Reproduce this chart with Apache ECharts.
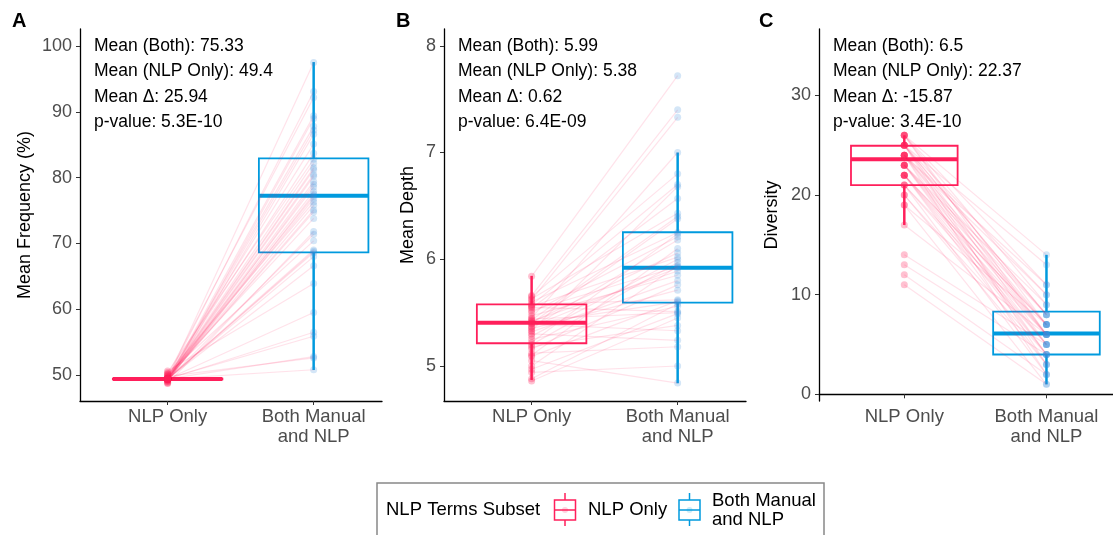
<!DOCTYPE html>
<html>
<head>
<meta charset="utf-8">
<script src="https://cdn.jsdelivr.net/npm/echarts@6/dist/echarts.min.js"></script>
<style>
html,body{margin:0;padding:0;background:#fff;}
#chart{width:1113px;height:535px;}
</style>
</head>
<body>
<div id="chart"></div>
<script>
// ---------------- data ----------------
const categories = ['NLP Only', 'Both Manual\nand NLP'];
const legendTitle = 'NLP Terms Subset';
const legendLabels = ['NLP Only', 'Both Manual\nand NLP'];
const panelLetters = ['A', 'B', 'C'];
const yTitles = ['Mean Frequency (%)', 'Mean Depth', 'Diversity'];

const yTicksA = [50, 60, 70, 80, 90, 100];
const yTicksB = [5, 6, 7, 8];
const yTicksC = [0, 10, 20, 30];

const annotA = ['Mean (Both): 75.33', 'Mean (NLP Only): 49.4', 'Mean \u0394: 25.94', 'p-value: 5.3E-10'];
const annotB = ['Mean (Both): 5.99', 'Mean (NLP Only): 5.38', 'Mean \u0394: 0.62', 'p-value: 6.4E-09'];
const annotC = ['Mean (Both): 6.5', 'Mean (NLP Only): 22.37', 'Mean \u0394: -15.87', 'p-value: 3.4E-10'];

// Panel A: mean frequency (%)
const freqNlp = [49.4, 49.6, 50.6, 49.3, 49.4, 49.8, 49.4, 49.2, 50.2, 49.4,
                 49.5, 49.4, 49.0, 49.4, 49.7, 49.4, 49.3, 50.4, 49.4, 49.5,
                 48.9, 49.4, 49.4, 49.6, 49.1, 49.4, 50.0, 49.4, 49.3, 49.4,
                 48.8, 49.5, 49.4, 49.9, 49.4, 49.2, 49.4, 50.1, 49.4, 49.5,
                 48.7, 49.4, 49.4];
const freqBoth = [97.5, 77.2, 63.9, 89.4, 81.2, 52.6, 75.8, 87.2, 70.4, 80.5,
                  93.1, 68.6, 79.0, 56.5, 85.1, 76.8, 71.4, 82.8, 50.8, 78.6,
                  89.0, 74.8, 66.6, 83.7, 77.5, 59.5, 92.2, 69.0, 80.2, 75.1,
                  86.6, 55.9, 81.5, 73.8, 68.8, 79.4, 87.8, 76.3, 52.8, 82.2,
                  71.8, 77.9, 68.0];
// box stats: [lower whisker, Q1, median, Q3, upper whisker]
const freqBoxNlp = [49.25, 49.33, 49.39, 49.45, 49.52];
const freqBoxBoth = [50.76, 68.65, 77.25, 82.93, 97.57];

// Panel B: mean depth
const depthNlp = [5.84, 5.66, 5.65, 5.63, 5.62, 5.60, 5.58, 5.57, 5.56, 5.55,
                  5.54, 5.52, 5.50, 5.47, 5.45, 5.44, 5.43, 5.42, 5.41, 5.40,
                  5.40, 5.39, 5.37, 5.36, 5.35, 5.33, 5.32, 5.30, 5.28, 5.25,
                  5.22, 5.20, 5.18, 5.16, 5.12, 5.10, 5.09, 5.05, 5.00, 4.97,
                  4.94, 4.88, 4.86];
const depthBoth = [7.72, 7.40, 6.80, 6.43, 7.33, 6.25, 5.62, 6.70, 6.02, 5.51,
                   6.57, 5.93, 6.21, 5.85, 7.00, 5.50, 6.40, 5.89, 6.06, 5.60,
                   6.38, 5.33, 5.92, 6.18, 5.71, 6.68, 5.80, 5.24, 6.00, 5.56,
                   6.24, 5.97, 5.38, 5.76, 5.18, 6.10, 5.61, 4.84, 5.94, 5.49,
                   5.00, 5.58, 5.45];
const depthBoxNlp = [4.869, 5.213, 5.406, 5.578, 5.844];
const depthBoxBoth = [4.838, 5.593, 5.92, 6.253, 7.0];

// Panel C: diversity
const divNlp = [26, 26, 26, 26, 26, 25, 25, 25, 25, 25, 25, 25, 24, 24, 24, 24, 24, 24, 24,
                23, 23, 23, 23, 23, 23, 22, 22, 22, 22, 22, 22, 21, 21, 21, 20, 20, 19, 19,
                17, 14, 13, 12, 11];
const divBoth = [14, 11, 9, 7, 6, 13, 10, 8, 8, 6, 5, 3, 11, 10, 8, 7, 6, 4, 2,
                 9, 8, 7, 6, 5, 4, 7, 7, 6, 5, 4, 3, 6, 5, 2, 4, 3, 7, 1,
                 6, 5, 4, 2, 1];
const divBoxNlp = [17, 21, 23.6, 24.95, 26];
const divBoxBoth = [1, 4, 6.1, 8.3, 14];

// ---------------- style ----------------
const PINK = '#FF1F5B';
const BLUE = '#009ADE';
const FONT = 'Liberation Sans, Arial, Helvetica, sans-serif';
const BOX_HALF = 0.375;

const panels = [
  {left: 80, top: 29, ymin: 46.05, ymax: 102.6, ticks: yTicksA, nlp: freqNlp, both: freqBoth,
   boxN: freqBoxNlp, boxB: freqBoxBoth, annot: annotA, nameGap: 46},
  {left: 444, top: 29, ymin: 4.672, ymax: 8.157, ticks: yTicksB, nlp: depthNlp, both: depthBoth,
   boxN: depthBoxNlp, boxB: depthBoxBoth, annot: annotB, nameGap: 27},
  {left: 819, top: 29, ymin: -0.67, ymax: 36.67, ticks: yTicksC, nlp: divNlp, both: divBoth,
   boxN: divBoxNlp, boxB: divBoxBoth, annot: annotC, nameGap: 38}
];
const letterX = [12, 396, 759];

const grid = [], xAxis = [], yAxis = [], series = [], graphic = [];

panels.forEach((p, i) => {
  grid.push({left: p.left, top: p.top, width: 302, height: 401 - p.top, containLabel: false});
  xAxis.push({
    type: 'value', gridIndex: i, min: 0.4, max: 2.468,
    axisLine: {show: true, lineStyle: {color: '#000', width: 1.3}},
    axisTick: {show: true, length: 4, lineStyle: {color: '#333'}, customValues: [1, 2]},
    axisLabel: {show: true, customValues: [1, 2], margin: 6, color: '#4d4d4d', fontSize: 18.5,
      fontFamily: FONT, lineHeight: 20, align: 'center',
      formatter: v => categories[Math.round(v) - 1]},
    splitLine: {show: false}
  });
  yAxis.push({
    type: 'value', gridIndex: i, min: p.ymin, max: p.ymax,
    name: yTitles[i], nameLocation: 'middle', nameGap: p.nameGap,
    nameTextStyle: {color: '#000', fontSize: 18, fontFamily: FONT},
    axisLine: {show: true, lineStyle: {color: '#000', width: 1.3}},
    axisTick: {show: true, length: 4, lineStyle: {color: '#333'}, customValues: p.ticks},
    axisLabel: {show: true, customValues: p.ticks, margin: 8, color: '#4d4d4d', fontSize: 18, fontFamily: FONT},
    splitLine: {show: false}
  });
  // boxplots
  series.push({
    type: 'custom', xAxisIndex: i, yAxisIndex: i, z: 2, silent: true,
    encode: {x: 0, y: [1, 2, 3, 4, 5]},
    data: [[1].concat(p.boxN), [2].concat(p.boxB)],
    renderItem: function (params, api) {
      const x = api.value(0);
      const color = params.dataIndex === 0 ? PINK : BLUE;
      const lo = api.coord([x, api.value(1)]);
      const q1 = api.coord([x, api.value(2)]);
      const md = api.coord([x, api.value(3)]);
      const q3 = api.coord([x, api.value(4)]);
      const hi = api.coord([x, api.value(5)]);
      const l = api.coord([x - BOX_HALF, api.value(3)])[0];
      const r = api.coord([x + BOX_HALF, api.value(3)])[0];
      return {type: 'group', children: [
        {type: 'line', shape: {x1: lo[0], y1: lo[1], x2: q1[0], y2: q1[1]}, style: {stroke: color, lineWidth: 2.5}},
        {type: 'line', shape: {x1: q3[0], y1: q3[1], x2: hi[0], y2: hi[1]}, style: {stroke: color, lineWidth: 2.5}},
        {type: 'rect', shape: {x: l, y: q3[1], width: r - l, height: q1[1] - q3[1]},
         style: {fill: 'none', stroke: color, lineWidth: 1.8}},
        {type: 'line', shape: {x1: l, y1: md[1], x2: r, y2: md[1]}, style: {stroke: color, lineWidth: 4}}
      ]};
    }
  });
  // paired lines
  series.push({
    type: 'lines', coordinateSystem: 'cartesian2d', xAxisIndex: i, yAxisIndex: i, z: 3, silent: true,
    lineStyle: {color: PINK, opacity: 0.13, width: 1.2},
    data: p.nlp.map((v, k) => ({coords: [[1, v], [2, p.both[k]]]}))
  });
  // points
  series.push({
    type: 'scatter', name: legendLabels[0], xAxisIndex: i, yAxisIndex: i, z: 4, silent: true,
    symbolSize: 7, itemStyle: {color: PINK, opacity: 0.28},
    data: p.nlp.map(v => [1, v])
  });
  series.push({
    type: 'scatter', name: legendLabels[1], xAxisIndex: i, yAxisIndex: i, z: 4, silent: true,
    symbolSize: 7, itemStyle: {color: '#3d8fd9', opacity: 0.22},
    data: p.both.map(v => [2, v])
  });
  // annotations
  p.annot.forEach((t, k) => {
    graphic.push({type: 'text', x: p.left + 14, y: 46 + k * 25.5, z: 10,
      style: {text: t, fill: '#000', font: '17.5px ' + FONT, verticalAlign: 'middle', align: 'left'}});
  });
  graphic.push({type: 'text', x: letterX[i], y: 21, z: 10,
    style: {text: panelLetters[i], fill: '#000', font: 'bold 20px ' + FONT, verticalAlign: 'middle', align: 'left'}});
});

// legend (drawn)
function legendGlyph(cx, color) {
  return [
    {type: 'line', z: 7, shape: {x1: cx, y1: 493, x2: cx, y2: 500}, style: {stroke: color, lineWidth: 1.5}},
    {type: 'line', z: 7, shape: {x1: cx, y1: 520, x2: cx, y2: 526}, style: {stroke: color, lineWidth: 1.5}},
    {type: 'rect', z: 7, shape: {x: cx - 10.5, y: 500, width: 21, height: 20}, style: {fill: '#fff', stroke: color, lineWidth: 1.5}},
    {type: 'circle', z: 8, shape: {cx: cx, cy: 510, r: 3}, style: {fill: color, opacity: 0.2}},
    {type: 'line', z: 8, shape: {x1: cx - 10.5, y1: 510, x2: cx + 10.5, y2: 510}, style: {stroke: color, lineWidth: 1.5}}
  ];
}
graphic.push({type: 'rect', shape: {x: 377, y: 483, width: 447, height: 70},
  style: {fill: '#fff', stroke: '#888', lineWidth: 1.5}, z: 5});
graphic.push({type: 'text', x: 386, y: 510, z: 6,
  style: {text: legendTitle, fill: '#000', font: '18.5px ' + FONT, verticalAlign: 'middle'}});
legendGlyph(565, PINK).forEach(e => graphic.push(e));
graphic.push({type: 'text', x: 588, y: 510, z: 6,
  style: {text: legendLabels[0], fill: '#000', font: '18.5px ' + FONT, verticalAlign: 'middle'}});
legendGlyph(689.5, BLUE).forEach(e => graphic.push(e));
graphic.push({type: 'text', x: 712, y: 510.5, z: 6,
  style: {text: legendLabels[1], fill: '#000', font: '18.5px ' + FONT, verticalAlign: 'middle', lineHeight: 19.5}});

const chart = echarts.init(document.getElementById('chart'), null, {renderer: 'canvas'});
chart.setOption({
  animation: false,
  backgroundColor: '#fff',
  textStyle: {fontFamily: FONT},
  grid, xAxis, yAxis, series, graphic
});
</script>
</body>
</html>
